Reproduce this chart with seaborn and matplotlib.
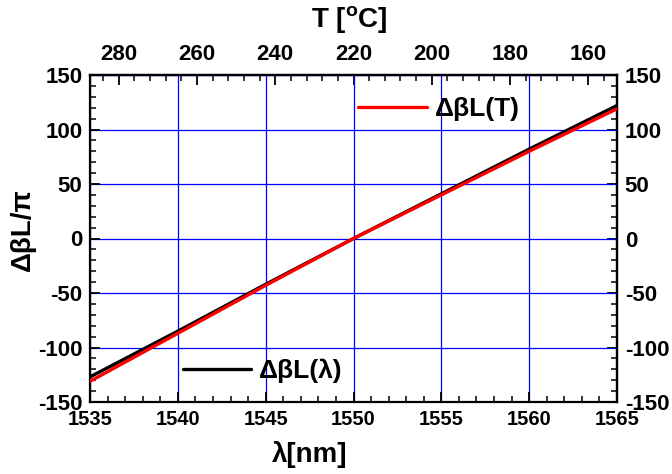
import numpy as np
import pandas as pd
import matplotlib
matplotlib.use("Agg")
import matplotlib.pyplot as plt
import seaborn as sns
from matplotlib.ticker import MultipleLocator
from matplotlib.lines import Line2D

# Phase mismatch (in units of pi) versus wavelength and versus temperature
wavelength_nm = [1535, 1540, 1545, 1550, 1555, 1560, 1565]
dbl_vs_lambda = [-127, -85, -42, 0, 41, 82, 122]
dbl_vs_temp = [-131, -87, -43, 0, 40, 80, 119]

x_ticks = [1535, 1540, 1545, 1550, 1555, 1560, 1565]
y_ticks = [-150, -100, -50, 0, 50, 100, 150]
t_ticks = [280, 260, 240, 220, 200, 180, 160]

# wavelength <-> temperature conversion for the top axis
T_REF = 220.0
LAMBDA_REF = 1550.0
NM_PER_DEG = 0.2228


def lam_to_T(lam):
    return T_REF - (np.asarray(lam, dtype=float) - LAMBDA_REF) / NM_PER_DEG


def T_to_lam(t):
    return LAMBDA_REF + (T_REF - np.asarray(t, dtype=float)) * NM_PER_DEG


sns.set_style("ticks")
plt.rcParams["font.family"] = ["Liberation Sans", "DejaVu Sans"]
plt.rcParams["font.weight"] = "bold"
plt.rcParams["mathtext.fontset"] = "custom"
plt.rcParams["mathtext.rm"] = "Liberation Sans:bold"
plt.rcParams["mathtext.bf"] = "Liberation Sans:bold"
plt.rcParams["axes.linewidth"] = 1.6
plt.rcParams["axes.unicode_minus"] = False
for key in ["text.color", "axes.labelcolor", "xtick.color", "ytick.color", "axes.edgecolor"]:
    plt.rcParams[key] = "black"

df_lam = pd.DataFrame({"wavelength": wavelength_nm, "dbl": dbl_vs_lambda})
df_T = pd.DataFrame({"wavelength": wavelength_nm, "dbl": dbl_vs_temp})

fig = plt.figure(figsize=(6.72, 4.74), dpi=100)
ax = fig.add_axes([90 / 672, 72 / 474, 527 / 672, 327 / 474])

sns.lineplot(data=df_lam, x="wavelength", y="dbl", color="black", lw=2.4, ax=ax, zorder=3)
sns.lineplot(data=df_T, x="wavelength", y="dbl", color="#ff0000", lw=2.4, ax=ax, zorder=4)

ax.set_xlim(1535, 1565)
ax.set_ylim(-150, 150)
ax.set_xticks(x_ticks)
ax.set_yticks(y_ticks)
ax.xaxis.set_minor_locator(MultipleLocator(1))
ax.yaxis.set_minor_locator(MultipleLocator(10))
ax.grid(which="major", color="#0000ff", lw=0.9)
ax.set_axisbelow(True)

TICK_SIZE = 16
tick_kw = dict(direction="in", width=1.3, colors="black")
ax.tick_params(which="major", length=7, **tick_kw)
ax.tick_params(which="minor", length=4, width=1.1, direction="in")
ax.tick_params(axis="x", which="major", pad=5.5, labelsize=14.5)
ax.tick_params(axis="y", which="major", pad=5.5, labelsize=TICK_SIZE)
ax.tick_params(top=False, right=False, which="both")
for lab in ax.get_xticklabels() + ax.get_yticklabels():
    lab.set_fontweight("bold")

# top axis: temperature
secx = ax.secondary_xaxis("top", functions=(lam_to_T, T_to_lam))
secx.set_xticks(t_ticks)
secx.xaxis.set_minor_locator(MultipleLocator(4))
secx.tick_params(which="major", length=7, pad=7.5, labelsize=TICK_SIZE, **tick_kw)
secx.tick_params(which="minor", length=4, width=1.1, direction="in")
for lab in secx.get_xticklabels():
    lab.set_fontweight("bold")

# right axis mirrors the left one
secy = ax.secondary_yaxis("right", functions=(lambda y: y, lambda y: y))
secy.set_yticks(y_ticks)
secy.yaxis.set_minor_locator(MultipleLocator(10))
secy.tick_params(which="major", length=7, pad=5.5, labelsize=TICK_SIZE, **tick_kw)
secy.tick_params(which="minor", length=4, width=1.1, direction="in")
for lab in secy.get_yticklabels():
    lab.set_fontweight("bold")

LABEL_SIZE = 20
ax.set_xlabel("λ[nm]", fontsize=LABEL_SIZE, fontweight="bold")
ax.xaxis.set_label_coords(0.416, -0.162)
ax.xaxis.label.set_va("center")
ax.set_ylabel("ΔβL/π", fontsize=LABEL_SIZE, fontweight="bold")
ax.yaxis.set_label_coords(-0.127, 0.526)
ax.yaxis.label.set_va("center")
ax.text(0.493, 1.168, r"T [$^{\mathbf{o}}$C]", transform=ax.transAxes,
        ha="center", va="center", fontsize=LABEL_SIZE, fontweight="bold")

leg_kw = dict(loc="center left", frameon=False, borderpad=0, borderaxespad=0,
              handlelength=2.6, handletextpad=0.3,
              prop={"weight": "bold", "size": 19})
leg_T = ax.legend([Line2D([], [], color="#ff0000", lw=2.4)], ["ΔβL(T)"],
                  bbox_to_anchor=(0.509, 0.896), **leg_kw)
ax.add_artist(leg_T)
ax.legend([Line2D([], [], color="black", lw=2.4)], ["ΔβL(λ)"],
          bbox_to_anchor=(0.176, 0.095), **leg_kw)

fig.savefig("out.png", dpi=100)
